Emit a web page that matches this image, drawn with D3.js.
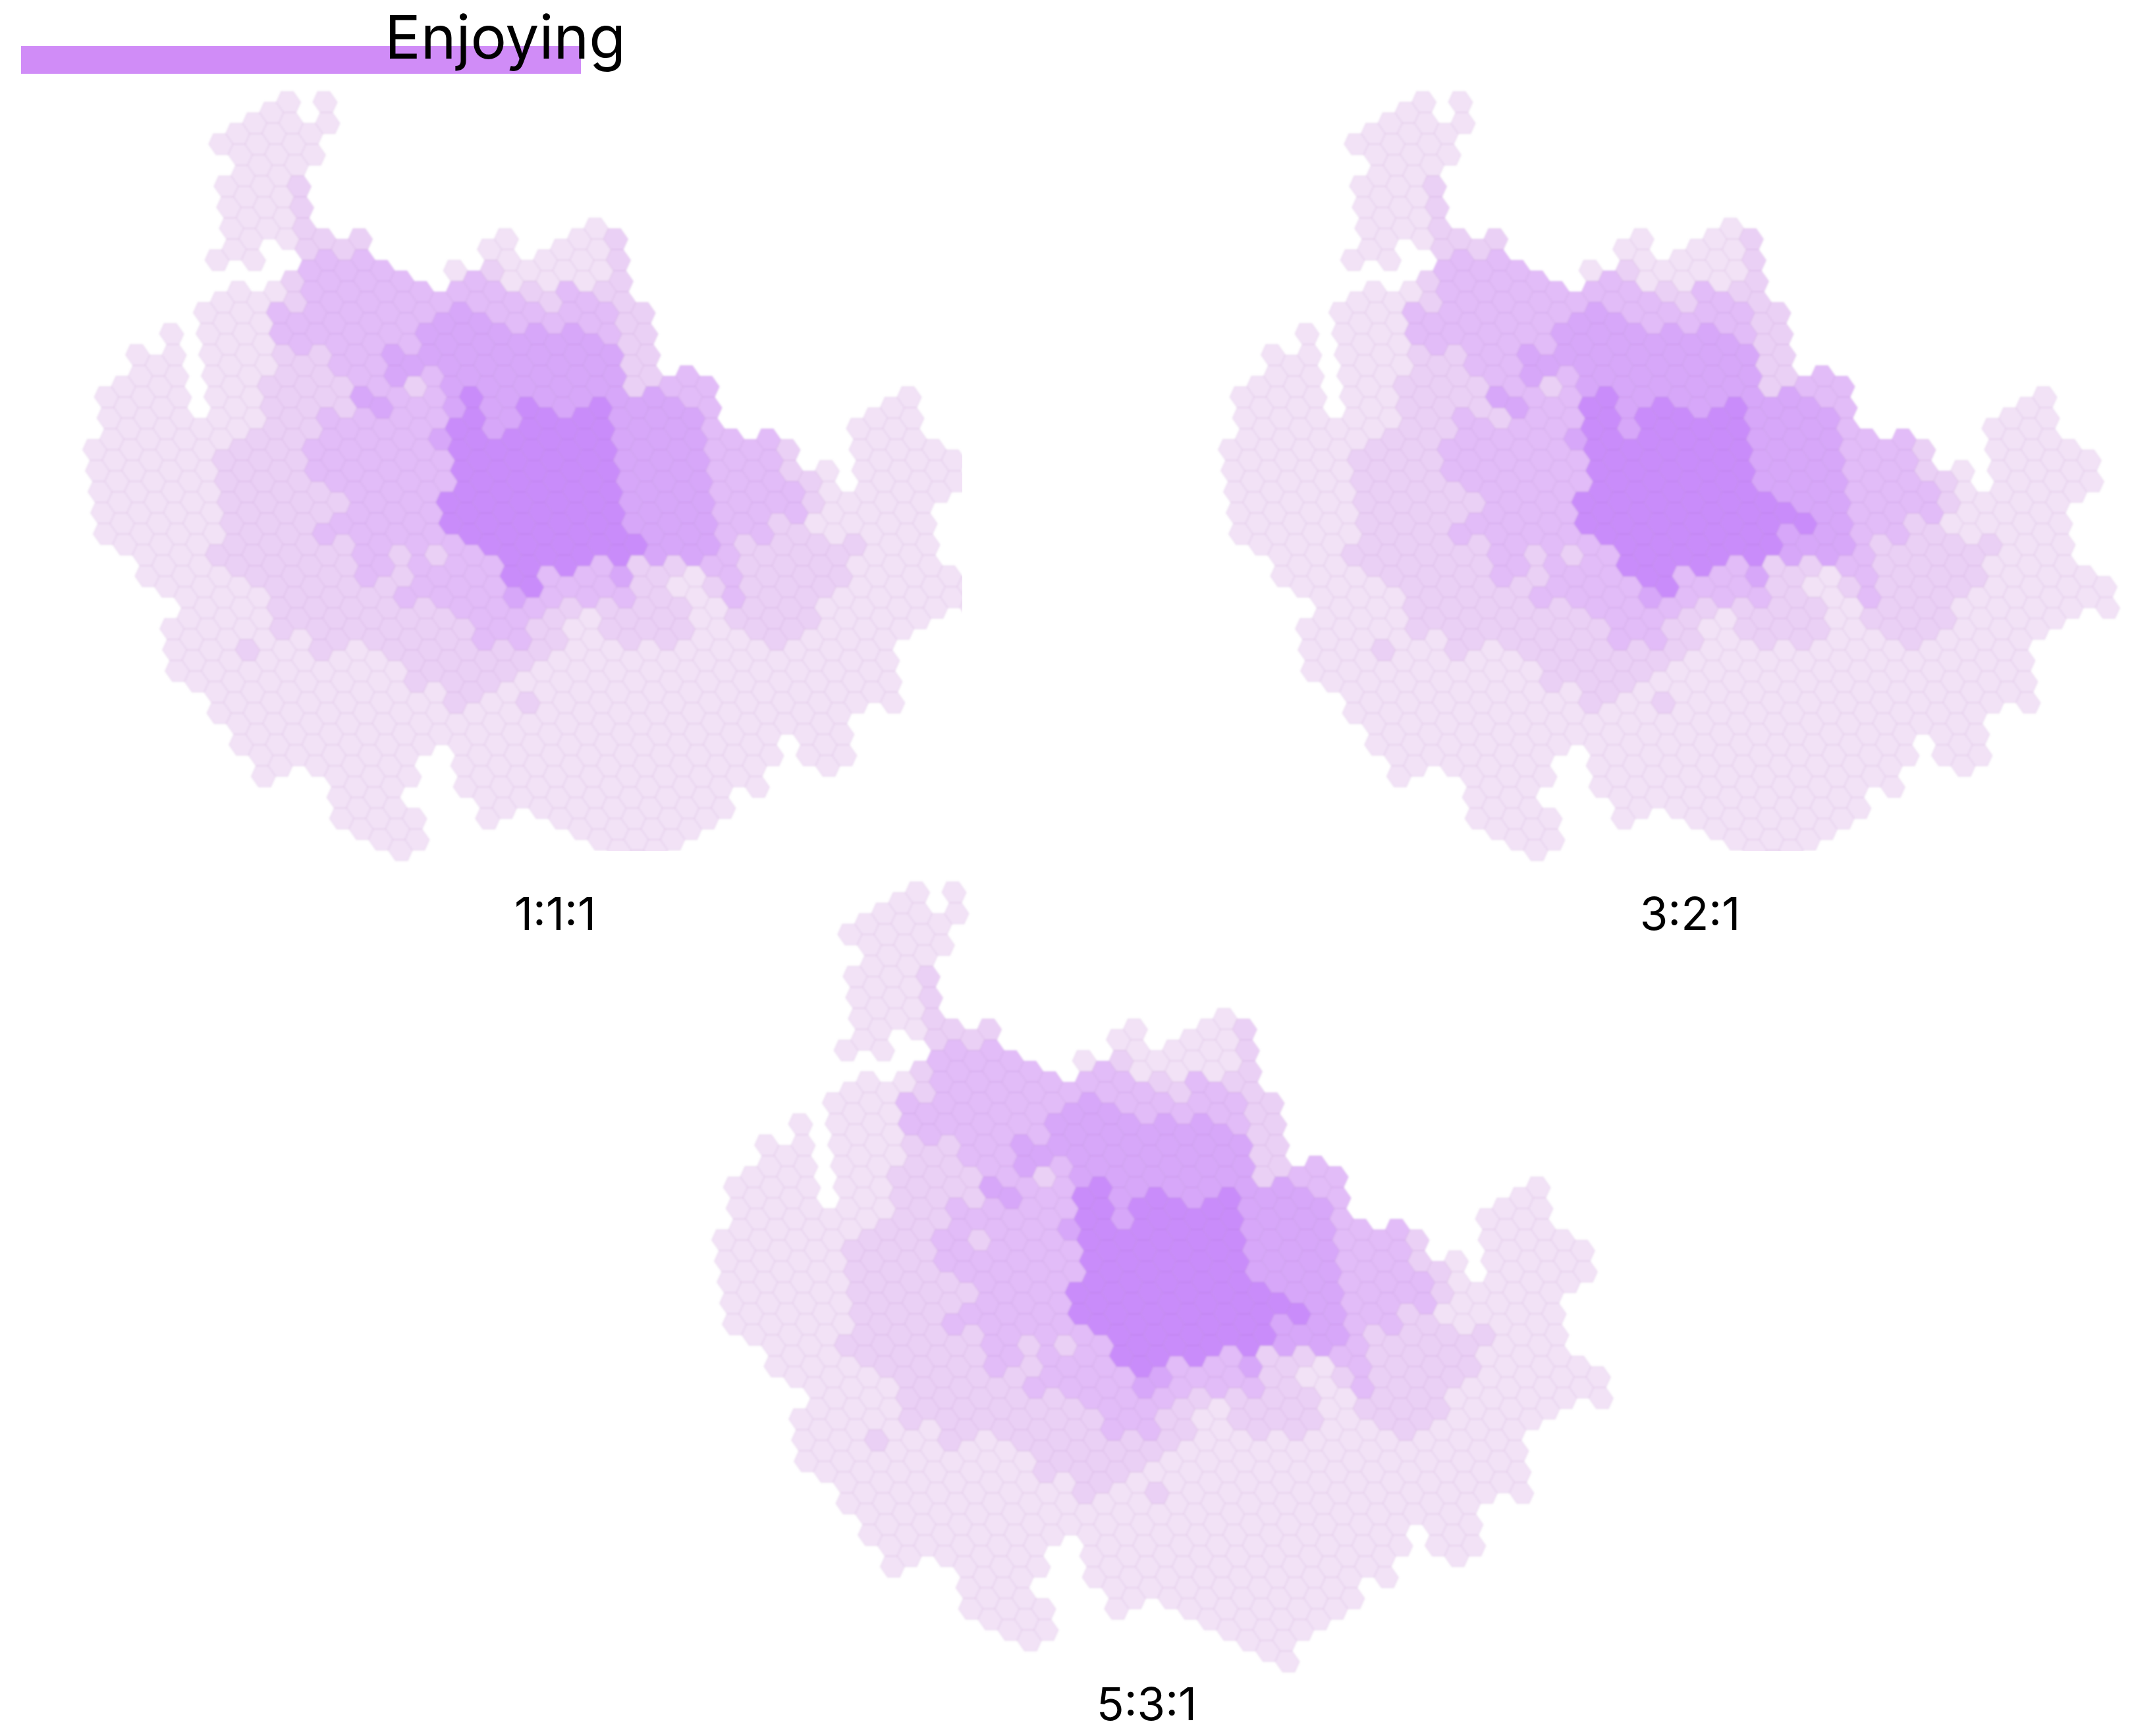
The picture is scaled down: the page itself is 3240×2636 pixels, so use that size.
<!DOCTYPE html>
<html>
<head>
<meta charset="utf-8">
<style>
  html, body { margin: 0; padding: 0; background: #fff; }
  svg { display: block; }
  text { font-family: Inter, Roboto, sans-serif; fill: #000; }
</style>
<script src="https://cdn.jsdelivr.net/npm/d3@7/dist/d3.min.js"></script>
</head>
<body>
<div class="chart"></div>
<script>
let svgWidth = 3240;
let svgHeight = 2636;

let legendLabel = "Enjoying";
let panelLabels = ["1:1:1", "3:2:1", "5:3:1"];
let levels = [0, 1, 2, 3, 4];
let levelColors = ["#F2E2F6", "#EAD0F5", "#E2BCF8", "#D7A7F9", "#C98CFA"];

let rows111 = [
  "12-13:0 15:0",
  "10-15:0",
  "9-14:0",
  "10-13:0",
  "9-12:0 13:1",
  "9-12:0 13:1",
  "9-12:0 13-14:1 16:1 24:0 28-29:0 30:1",
  "8-10:0 13:1 14:2 15:1 16:2 23-24:0 26-29:0 30:1",
  "12:1 13-18:2 21:0 22:2 23:1 24-29:0 30:1",
  "8-11:0 12:1 13-24:2 25-26:1 27-28:2 29-30:1",
  "7-10:0 11-19:2 20-22:3 23-29:2 30-31:1",
  "5:0 7-10:0 11-18:2 19-28:3 29:2 30-31:1",
  "3-5:0 7-10:0 11-13:1 14-16:2 17-29:3 30-31:1",
  "2-5:0 7-9:0 10-14:1 15-16:2 17:3 18:1 19:2 20-29:3 30-31:1 32-34:2",
  "1-5:0 7-9:0 10-14:1 15-16:3 17-19:2 20:3 21:4 22-23:3 24:4 25-27:3 28:4 29-32:3 33-34:2 44-45:0",
  "1-9:0 10-12:1 13-19:2 20-21:4 22-23:3 24-28:4 29-33:3 34:2 42-45:0",
  "0-7:0 8-11:1 12-18:2 19:3 20-28:4 29-33:3 34-37:2 38:1 42-46:0",
  "0-6:0 7-11:1 12-19:2 20-28:4 29-33:3 34-37:2 38:1 40:0 42-47:0",
  "0-6:0 7-12:1 13-19:2 20-28:4 29-33:3 34-38:2 39:1 40:0 42-47:0",
  "0-6:0 7-13:1 14-18:2 19-28:4 29-33:3 34-38:2 39:1 40-45:0",
  "0-6:0 7-11:1 12-18:2 19-28:4 29-33:3 34-36:2 37-38:1 39-45:0",
  "1-5:0 6-13:1 14-15:2 16:1 17:2 18:1 19-20:2 21-29:4 30-33:3 34:2 35-41:1 42-45:0",
  "2-6:0 7-13:1 14-15:2 16:1 17-21:2 22-23:4 24:2 25:4 26-27:2 28:3 29-31:1 32:0 33-34:2 35-40:1 41-46:0",
  "3-8:0 9-15:1 16-21:2 22:3 23:4 24-28:2 29-30:1 31-32:0 33:1 34:2 35-39:1 40-47:0",
  "4-8:0 9-18:1 19-23:2 24-25:1 26:0 27-31:1 32-33:0 34-38:1 39-45:0 47:0",
  "3-8:0 9:1 10:0 11-19:1 20-22:2 23-24:1 25-26:0 27-31:1 32-34:0 35-37:1 38-43:0",
  "3-6:0 7:1 8-10:0 11:1 12-14:0 15-23:1 24-42:0",
  "3-15:0 16-21:1 22-42:0",
  "5-17:0 18-19:1 20-21:0 22:1 23-42:0",
  "5-39:0",
  "6-35:0 37-39:0",
  "7-15:0 18-35:0 37-39:0",
  "7:0 11-15:0 18-34:0",
  "11-14:0 19-32:0",
  "11-15:0 19:0 23-31:0",
  "13-15:0 25-29:0",
  "27-28:0"
];

// the other two maps only differ from 1:1:1 in a few cells: [row, runs]
let edits321 = [
  [14, "20:4"],
  [15, "15:1 23:4"],
  [19, "29-30:4"],
  [20, "29:4 31:4"],
  [22, "21:4"]
];
let edits531 = [
  [14, "20:4"],
  [15, "23:4"],
  [16, "14:1"],
  [19, "29-30:4"],
  [20, "29:4 31:4"],
  [22, "21:4"],
  [23, "23:3"]
];

// turn "a-b:level" strings into a col -> level lookup per row
function parseRuns(text) {
  let cells = [];
  text.split(" ").forEach(function(run) {
    let parts = run.split(":");
    let ends = parts[0].split("-").map(Number);
    let last = ends.length > 1 ? ends[1] : ends[0];
    for (let col = ends[0]; col <= last; col++) {
      cells.push({ col: col, level: +parts[1] });
    }
  });
  return cells;
}

function buildCells(edits) {
  let grid = rows111.map(function(text) {
    let byCol = new Map();
    parseRuns(text).forEach(c => byCol.set(c.col, c.level));
    return byCol;
  });
  edits.forEach(function(edit) {
    parseRuns(edit[1]).forEach(c => grid[edit[0]].set(c.col, c.level));
  });
  let cells = [];
  grid.forEach(function(byCol, row) {
    byCol.forEach(function(level, col) {
      cells.push({ row: row, col: col, level: level });
    });
  });
  return d3.sort(cells, d => d.level);
}

let colScale = d3.scaleLinear().domain([0, 49]).range([78, 78 + 27.7 * 49]);
let rowScale = d3.scaleLinear().domain([0, 36]).range([155, 155 + 32 * 36]);
let colorScale = d3.scaleOrdinal().domain(levels).range(levelColors);

// grid leans a little: every 32px down is 4px further right
function cellX(d) {
  return colScale(d.col) + d.row * 4 + (d.col % 2 === 0 ? 2 : 0);
}
function cellY(d) {
  return rowScale(d.row) + (d.col % 2 === 0 ? 16 : 0);
}

let hexCorners = [[-18.5, 0], [-9.25, -16], [9.25, -16], [18.5, 0], [9.25, 16], [-9.25, 16]]
  .map(p => [p[0] + p[1] / 8, p[1]]);
let hexPath = d3.line().curve(d3.curveLinearClosed)(hexCorners);

let svg = d3.select(".chart")
  .append("svg")
  .attr("width", svgWidth)
  .attr("height", svgHeight);

let defs = svg.append("defs");
defs.append("filter")
  .attr("id", "soft")
  .append("feGaussianBlur")
  .attr("stdDeviation", 1.5);

let panels = [
  { edits: [], dx: 0, dy: 0, labelX: 843, labelY: 1412, clipRight: 1461, clipBottom: 1292 },
  { edits: edits321, dx: 1724, dy: 0, labelX: 2566, labelY: 1412, clipRight: 1600, clipBottom: 1292 },
  { edits: edits531, dx: 955, dy: 1200, labelX: 1741, labelY: 2612, clipRight: 1600, clipBottom: 1400 }
];

panels.forEach(function(panel, i) {
  // the first two maps are cut off flat at the bottom right
  let clip = defs.append("clipPath").attr("id", `clip${i}`);
  clip.append("rect").attr("x", 0).attr("y", 0).attr("width", 700).attr("height", 1400);
  clip.append("rect").attr("x", 700).attr("y", 0)
    .attr("width", panel.clipRight - 700).attr("height", panel.clipBottom);

  let group = svg.append("g")
    .attr("transform", `translate(${panel.dx}, ${panel.dy})`)
    .attr("clip-path", `url(#clip${i})`)
    .append("g")
    .attr("filter", "url(#soft)");

  group.selectAll("path")
    .data(buildCells(panel.edits))
    .enter()
    .append("path")
    .attr("d", hexPath)
    .attr("transform", d => `translate(${cellX(d)}, ${cellY(d)})`)
    .attr("fill", d => colorScale(d.level))
    .attr("stroke", "#9A5AB0")
    .attr("stroke-opacity", 0.08)
    .attr("stroke-width", 2);

  svg.append("text")
    .attr("x", panel.labelX)
    .attr("y", panel.labelY)
    .attr("text-anchor", "middle")
    .attr("font-size", 69)
    .text(panelLabels[i]);
});

// legend bar with its label sitting on top
svg.append("rect")
  .attr("x", 32)
  .attr("y", 70)
  .attr("width", 850)
  .attr("height", 42)
  .attr("fill", "#D08CF7");

svg.append("text")
  .attr("x", 584)
  .attr("y", 89)
  .attr("font-size", 91)
  .text(legendLabel);
</script>
</body>
</html>
